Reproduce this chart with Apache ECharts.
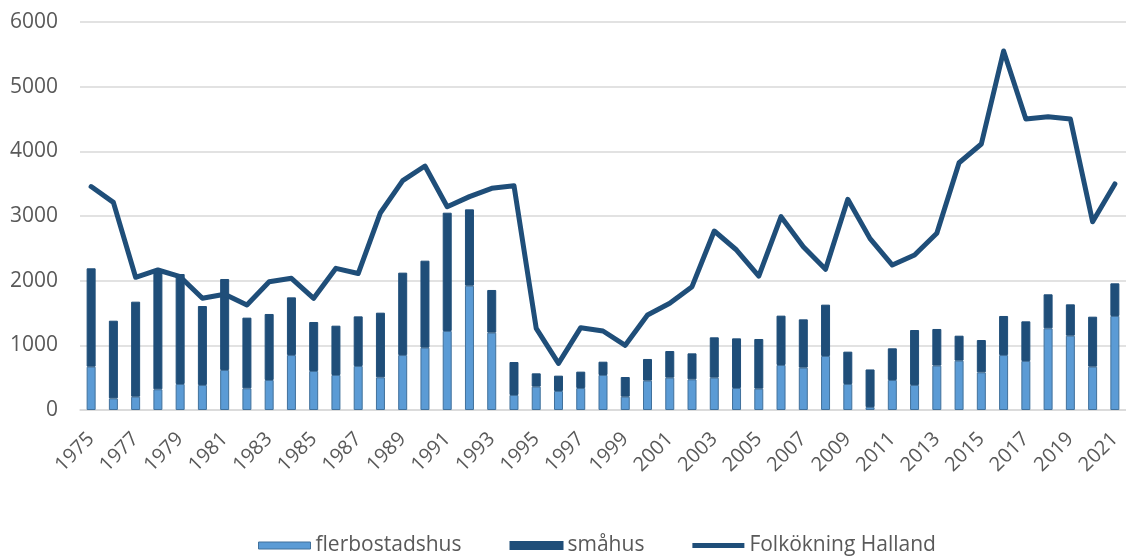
<!DOCTYPE html>
<html>
<head>
<meta charset="utf-8">
<script src="https://cdn.jsdelivr.net/npm/echarts@6/dist/echarts.min.js"></script>
<style>
  html, body { margin: 0; padding: 0; background: #fff; }
  #chart { width: 1126px; height: 556px; }
</style>
</head>
<body>
<div id="chart"></div>
<script>
var years = [];
for (var y = 1975; y <= 2021; y++) { years.push(String(y)); }

// flerbostadshus (light blue, bottom of stack)
var fler = [670, 180, 206, 320, 402, 387, 619, 335, 464, 850,
            603, 541, 680, 505, 850, 964, 1222, 1922, 1196, 232,
            361, 294, 340, 541, 206, 454, 500, 474, 500, 340,
            330, 696, 655, 835, 402, 45, 464, 387, 686, 763,
            582, 850, 758, 1263, 1149, 670, 1454];

// småhus (dark blue, top of stack)
var smahus = [1521, 1201, 1469, 1860, 1701, 1221, 1407, 1093, 1021, 892,
              758, 763, 768, 1000, 1274, 1345, 1829, 1181, 660, 510,
              206, 237, 253, 206, 304, 335, 412, 402, 624, 768,
              768, 763, 747, 794, 500, 582, 490, 850, 567, 386,
              500, 604, 613, 526, 485, 773, 505];

// Folkökning Halland (line)
var folkokning = [3455, 3211, 2052, 2165, 2061, 1727, 1789, 1624, 1984, 2036,
                  1727, 2191, 2110, 3051, 3546, 3773, 3144, 3300, 3428, 3469,
                  1263, 722, 1273, 1222, 1000, 1469, 1650, 1907, 2768, 2474,
                  2072, 2990, 2526, 2176, 3258, 2650, 2242, 2397, 2732, 3824,
                  4113, 5551, 4500, 4536, 4500, 2912, 3495];

var yTicks = [0, 1000, 2000, 3000, 4000, 5000, 6000];

var darkBlue = '#1F4E79';
var lightBlue = '#5B9BD5';
var textColor = '#595959';
var gridColor = '#D9D9D9';

var chart = echarts.init(document.getElementById('chart'));

var option = {
    animation: false,
    textStyle: { fontFamily: '"Open Sans", "Noto Sans", sans-serif' },
    grid: {
        left: 80,
        right: 0,
        top: 22,
        bottom: 146
    },
    legend: {
        left: 253,
        top: 530,
        itemWidth: 52,
        itemHeight: 7,
        itemGap: 48,
        textStyle: { color: textColor, fontSize: 21 },
        data: [
            { name: 'flerbostadshus', icon: 'rect',
              itemStyle: { color: lightBlue, borderColor: '#41719C', borderWidth: 1 } },
            { name: 'småhus', icon: 'rect' },
            { name: 'Folkökning Halland', icon: 'path://M0,0 H52 V5 H0 Z' }
        ]
    },
    xAxis: {
        type: 'category',
        data: years,
        boundaryGap: true,
        axisLine: { lineStyle: { color: gridColor, width: 1.5 } },
        axisTick: { show: false },
        axisLabel: {
            interval: 1,
            rotate: 45,
            color: textColor,
            fontSize: 20,
            margin: 26
        }
    },
    yAxis: {
        type: 'value',
        min: yTicks[0],
        max: yTicks[yTicks.length - 1],
        interval: 1000,
        axisLine: { show: false },
        axisTick: { show: false },
        splitLine: { lineStyle: { color: gridColor, width: 1.5 } },
        axisLabel: {
            color: textColor,
            fontSize: 21,
            margin: 22,
            formatter: function (v) { return String(v); }
        }
    },
    series: [
        {
            name: 'flerbostadshus',
            type: 'bar',
            stack: 'hus',
            barWidth: 9,
            data: fler,
            itemStyle: { color: lightBlue, borderColor: '#41719C', borderWidth: 1 }
        },
        {
            name: 'småhus',
            type: 'bar',
            stack: 'hus',
            barWidth: 9,
            data: smahus,
            itemStyle: { color: darkBlue, borderColor: darkBlue, borderWidth: 1 }
        },
        {
            name: 'Folkökning Halland',
            type: 'line',
            data: folkokning,
            symbol: 'none',
            showSymbol: false,
            lineStyle: { color: darkBlue, width: 5, cap: 'round', join: 'round' },
            itemStyle: { color: darkBlue },
            z: 5
        }
    ]
};

chart.setOption(option);
</script>
</body>
</html>
